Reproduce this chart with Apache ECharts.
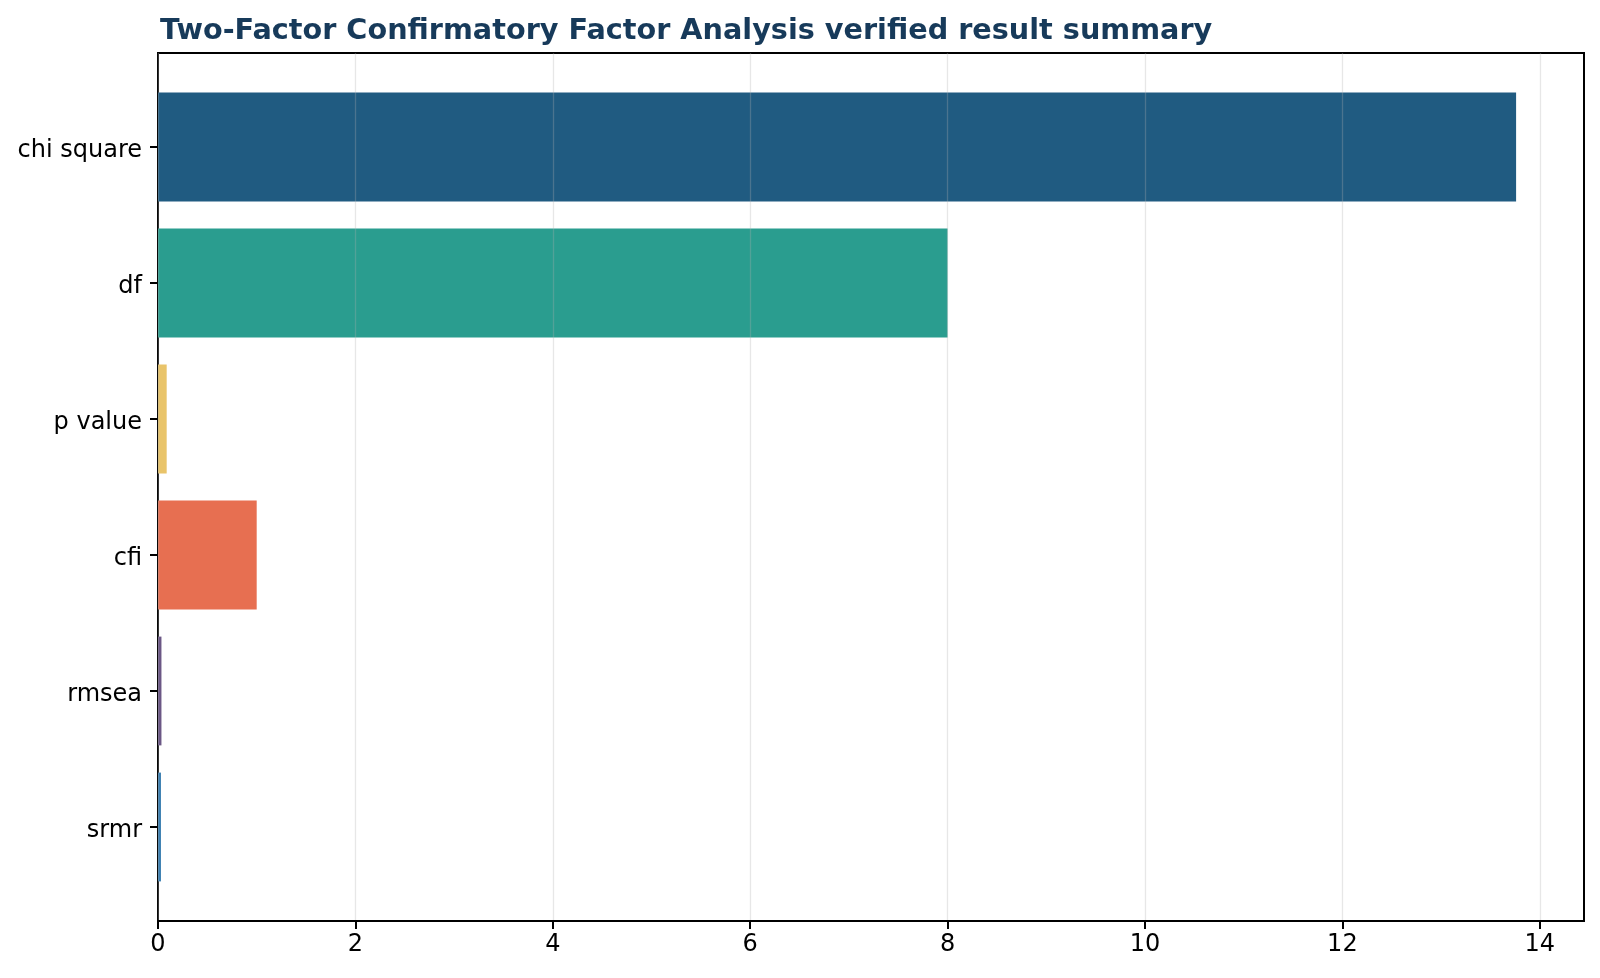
<!DOCTYPE html>
<html>
<head>
<meta charset="utf-8">
<script src="https://cdn.jsdelivr.net/npm/echarts@6.0.0/dist/echarts.min.js"></script>
<style>
  html, body { margin: 0; padding: 0; background: #fff; }
  #chart { width: 1600px; height: 978px; }
</style>
</head>
<body>
<div id="chart"></div>
<script>
// fit indices
const categories = ['chi square', 'df', 'p value', 'cfi', 'rmsea', 'srmr'];
const values = [13.76, 8, 0.088, 1.0, 0.035, 0.03];
const barColors = ['#205b81', '#2a9d8f', '#e9c46a', '#e76f51', '#6b5785', '#3a7eb0'];
const xTicks = [0, 2, 4, 6, 8, 10, 12, 14];

const xMax = 14.448;
const font = 'DejaVu Sans';

const chart = echarts.init(document.getElementById('chart'));

const option = {
    animation: false,
    backgroundColor: '#fff',
    title: {
        text: 'Two-Factor Confirmatory Factor Analysis verified result summary',
        left: 155,
        top: 12,
        textStyle: { fontFamily: font, fontSize: 28.7, fontWeight: 'bold', color: '#173a5a' }
    },
    grid: [
        // frame + x axis
        { left: 158, right: 16, top: 53, bottom: 57, show: true, borderColor: '#000', borderWidth: 2, backgroundColor: 'transparent' },
        // bars
        { left: 158, right: 16, top: 79, bottom: 83 }
    ],
    xAxis: [
        {
            gridIndex: 0, type: 'value', min: 0, max: xMax, interval: 2, z: 5,
            axisLine: { show: true, lineStyle: { color: '#000', width: 2 } },
            axisTick: { show: true, length: 8, lineStyle: { color: '#000', width: 2 },
                customValues: xTicks },
            axisLabel: { fontFamily: font, fontSize: 24, color: '#000', margin: 12,
                customValues: xTicks },
            splitLine: { show: true, lineStyle: { color: 'rgba(176,176,176,0.3)', width: 1.3 } }
        },
        { gridIndex: 1, type: 'value', min: 0, max: xMax, show: false }
    ],
    yAxis: [
        { gridIndex: 0, type: 'value', min: 0, max: 1, show: false },
        {
            gridIndex: 1, type: 'category', inverse: true, data: categories,
            axisLine: { show: false },
            axisTick: { show: true, alignWithLabel: true, length: 8, lineStyle: { color: '#000', width: 2 } },
            axisLabel: {
                margin: 16,
                formatter: '{n|{value}}',
                rich: { n: { fontFamily: font, fontSize: 24, color: '#000', padding: [8, 0, 0, 0] } }
            },
            splitLine: { show: false }
        }
    ],
    series: [{
        type: 'bar',
        xAxisIndex: 1,
        yAxisIndex: 1,
        barCategoryGap: '20%',
        z: 2,
        data: values.map((v, i) => ({ value: v, itemStyle: { color: barColors[i] } }))
    }]
};

chart.setOption(option);
</script>
</body>
</html>
